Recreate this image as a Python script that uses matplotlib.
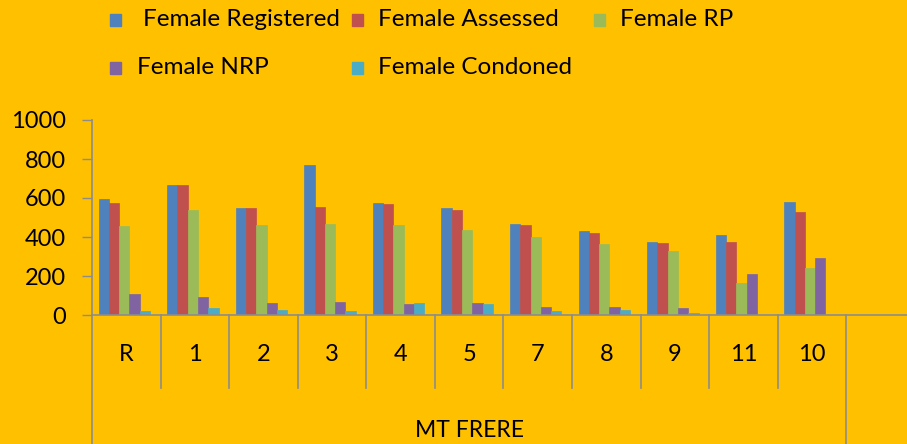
import matplotlib
matplotlib.use('Agg')
import matplotlib.pyplot as plt
import matplotlib.transforms as mtransforms
from matplotlib.patches import Rectangle
import numpy as np

categories = ['R', '1', '2', '3', '4', '5', '7', '8', '9', '11', '10']
group_label = 'MT FRERE'
series = ['Female Registered', 'Female Assessed', 'Female RP', 'Female NRP', 'Female Condoned']
registered = [593, 665, 547, 771, 574, 547, 468, 429, 376, 409, 579]
assessed = [573, 665, 547, 552, 568, 540, 462, 422, 369, 376, 527]
rp = [455, 540, 460, 468, 462, 436, 402, 364, 330, 166, 239]
nrp = [106, 94, 60, 67, 55, 61, 41, 41, 34, 212, 291]
condoned = [20, 36, 27, 20, 61, 55, 20, 27, 8, 0, 0]
colors = ['#4F81BD', '#C0504D', '#9BBB59', '#8064A2', '#4BACC6']

W, H = 907, 444
bg = '#FFC000'
grey = '#8C8C8C'
plt.rcParams['font.family'] = ['Lato', 'DejaVu Sans']

fig = plt.figure(figsize=(W / 100, H / 100), dpi=100, facecolor=bg)
ax = fig.add_axes([92 / W, (H - 315) / H, 823 / W, 195 / H], facecolor=bg)

x = np.arange(len(categories))
bw = 0.15
for k, vals in enumerate([registered, assessed, rp, nrp, condoned]):
    ax.bar(x - 0.03 + (k - 2) * bw, vals, width=bw, color=colors[k],
           edgecolor=colors[k], linewidth=0.5, label=series[k])

ax.set_xlim(-0.5, 11.5)
ax.set_ylim(0, 1000)
ax.set_yticks(range(0, 1001, 200))
ax.tick_params(axis='y', length=7, width=1, color=grey, pad=12, labelsize=17)
ax.set_xticks([])
for s in ['top', 'right']:
    ax.spines[s].set_visible(False)
for s in ['left', 'bottom']:
    ax.spines[s].set_color(grey)
    ax.spines[s].set_linewidth(1.2)

# axis lines below the plot: left spine down to the bottom, category dividers
tr = mtransforms.blended_transform_factory(ax.transData, ax.transAxes)
ax.plot([-0.5, -0.5], [0, -0.7], transform=tr, color=grey, lw=1.2, clip_on=False)
for i in range(len(categories)):
    bottom = -0.7 if i == len(categories) - 1 else -0.375
    ax.plot([i + 0.5, i + 0.5], [0, bottom], transform=tr, color=grey, lw=1.2, clip_on=False)
for i, c in enumerate(categories):
    ax.text(i, -0.205, c, transform=tr, ha='center', va='center', fontsize=17)
ax.text((len(categories) - 1) / 2, -0.59, group_label, transform=tr,
        ha='center', va='center', fontsize=16.5)

# legend, drawn by hand in pixel positions
legend_pos = [(110, 143, 20), (352, 378, 20), (594, 620, 20), (110, 137, 68), (352, 378, 68)]
for k, (mx, tx, ty) in enumerate(legend_pos):
    fig.add_artist(Rectangle((mx / W, 1 - (ty + 6) / H), 11 / W, 12 / H,
                             transform=fig.transFigure, color=colors[k]))
    fig.text(tx / W, 1 - ty / H, series[k], ha='left', va='center', fontsize=17.5)

fig.savefig('out.png', dpi=100, facecolor=bg)
